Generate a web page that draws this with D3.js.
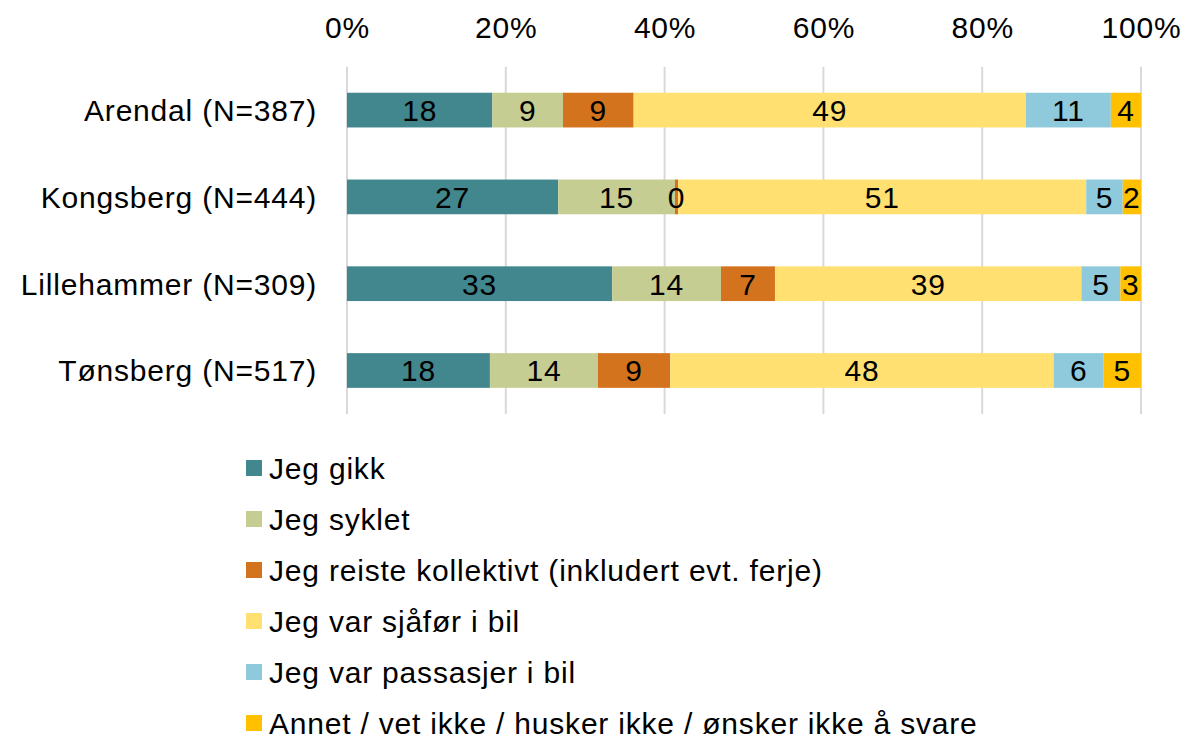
<!DOCTYPE html>
<html>
<head>
<meta charset="utf-8">
<script src="https://cdn.jsdelivr.net/npm/d3@7"></script>
<style>
  body { margin: 0; background: #fff; }
  svg text { font-family: 'Liberation Sans', Arial, sans-serif; letter-spacing: 0.8px; }
</style>
</head>
<body>
<svg width="1186" height="739"></svg>
<script>
const cities = ['Arendal (N=387)', 'Kongsberg (N=444)', 'Lillehammer (N=309)', 'Tønsberg (N=517)'];
const modes = [
  'Jeg gikk',
  'Jeg syklet',
  'Jeg reiste kollektivt (inkludert evt. ferje)',
  'Jeg var sjåfør i bil',
  'Jeg var passasjer i bil',
  'Annet / vet ikke / husker ikke / ønsker ikke å svare',
];
const colors = ['#41878d', '#c6cd92', '#d4731e', '#ffe071', '#8ecadb', '#ffc000'];

// percent per mode, one array per city
const arendal = [18.3, 8.9, 8.9, 49.4, 10.7, 3.8];
const kongsberg = [26.6, 14.7, 0.4, 51.4, 4.6, 2.3];
const lillehammer = [33.4, 13.7, 6.8, 38.6, 4.9, 2.6];
const tonsberg = [18.0, 13.6, 9.1, 48.3, 6.3, 4.7];
const values = [arendal, kongsberg, lillehammer, tonsberg];

const xTicks = [0, 20, 40, 60, 80, 100];

const svg = d3.select('svg');
const fontSize = 30;

const x = d3.scaleLinear([0, 100], [347, 1141]);
const y = d3.scaleBand(cities, [66.7, 413.9]).paddingInner(0.6).paddingOuter(0.3);

// gridlines
svg.append('g')
  .selectAll('line')
  .data(xTicks)
  .join('line')
    .attr('x1', (d) => x(d))
    .attr('x2', (d) => x(d))
    .attr('y1', 66.7)
    .attr('y2', 413.9)
    .attr('stroke', '#d9d9d9')
    .attr('stroke-width', 2);

// top axis
const xAxis = d3.axisTop(x).tickValues(xTicks).tickSize(0).tickPadding(0).tickFormat((d) => d + '%');
svg.append('g')
  .attr('transform', 'translate(0, 38)')
  .call(xAxis)
  .call((g) => g.select('.domain').remove())
  .selectAll('text')
    .attr('dy', 0)
    .attr('fill', '#000')
    .style('font-family', "'Liberation Sans', Arial, sans-serif")
    .style('font-size', fontSize + 'px');

// category labels
const yAxis = d3.axisLeft(y).tickSize(0).tickPadding(0);
svg.append('g')
  .attr('transform', 'translate(317, 0)')
  .call(yAxis)
  .call((g) => g.select('.domain').remove())
  .selectAll('text')
    .attr('fill', '#000')
    .attr('dy', '0.36em')
    .style('font-family', "'Liberation Sans', Arial, sans-serif")
    .style('font-size', fontSize + 'px');

// stacked segments
const rows = values.map((vals, i) => {
  let acc = 0;
  return vals.map((v, j) => {
    const seg = { city: cities[i], mode: j, x0: acc, x1: acc + v, v };
    acc += v;
    return seg;
  });
});
const segData = rows.flat();

svg.append('g')
  .selectAll('rect')
  .data(segData)
  .join('rect')
    .attr('x', (d) => x(d.x0))
    .attr('y', (d) => y(d.city))
    .attr('width', (d) => x(d.x1) - x(d.x0))
    .attr('height', y.bandwidth())
    .attr('fill', (d) => colors[d.mode]);

// value labels on top of all bars
svg.append('g')
  .selectAll('text')
  .data(segData)
  .join('text')
    .text((d) => Math.round(d.v))
    .attr('x', (d) => (x(d.x0) + x(d.x1)) / 2)
    .attr('y', (d) => y(d.city) + y.bandwidth() / 2)
    .attr('dy', '0.36em')
    .attr('text-anchor', 'middle')
    .attr('fill', '#000')
    .style('font-size', fontSize + 'px');

// legend
const legend = svg.append('g')
  .selectAll('g')
  .data(modes)
  .join('g')
    .attr('transform', (d, i) => `translate(246, ${468 + i * 51})`);

legend.append('rect')
  .attr('x', 0)
  .attr('y', -8)
  .attr('width', 16)
  .attr('height', 16)
  .attr('fill', (d, i) => colors[i]);

legend.append('text')
  .text((d) => d)
  .attr('x', 23)
  .attr('dy', '0.36em')
  .attr('fill', '#000')
  .style('font-size', fontSize + 'px');
</script>
</body>
</html>
